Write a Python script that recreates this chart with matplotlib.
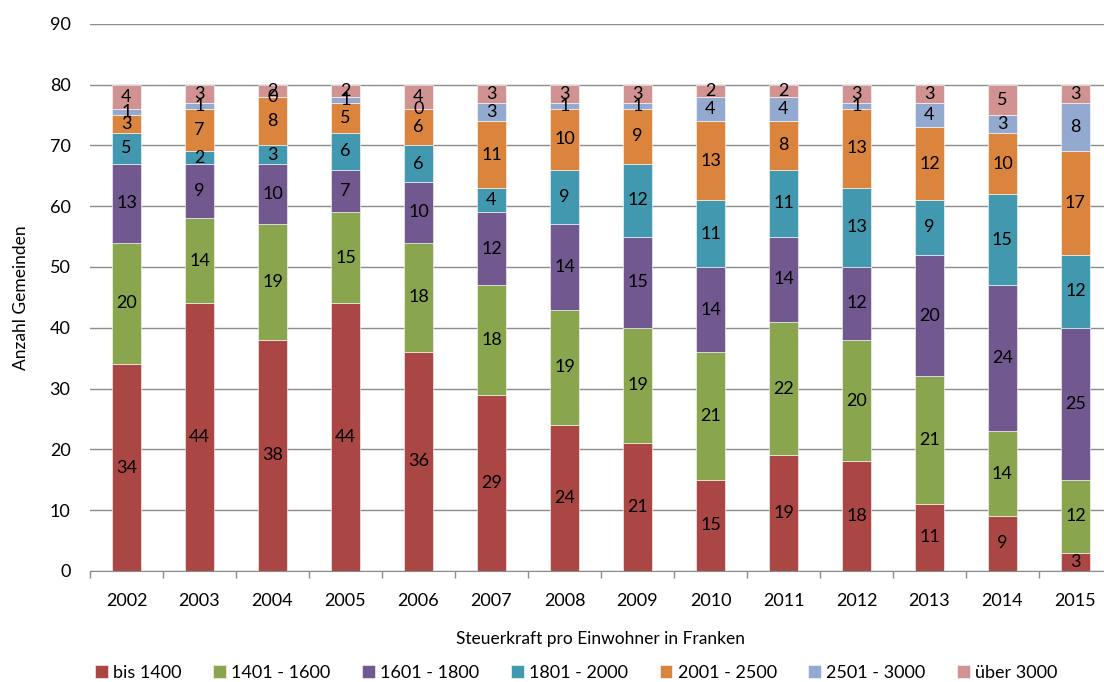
import numpy as np
import matplotlib.pyplot as plt
from matplotlib.ticker import FixedLocator

plt.rcParams['font.family'] = ['Lato', 'DejaVu Sans']

years = ['2002', '2003', '2004', '2005', '2006', '2007', '2008',
         '2009', '2010', '2011', '2012', '2013', '2014', '2015']
classes = ['bis 1400', '1401 - 1600', '1601 - 1800', '1801 - 2000',
           '2001 - 2500', '2501 - 3000', 'über 3000']

bis_1400 = [34, 44, 38, 44, 36, 29, 24, 21, 15, 19, 18, 11, 9, 3]
k1401_1600 = [20, 14, 19, 15, 18, 18, 19, 19, 21, 22, 20, 21, 14, 12]
k1601_1800 = [13, 9, 10, 7, 10, 12, 14, 15, 14, 14, 12, 20, 24, 25]
k1801_2000 = [5, 2, 3, 6, 6, 4, 9, 12, 11, 11, 13, 9, 15, 12]
k2001_2500 = [3, 7, 8, 5, 6, 11, 10, 9, 13, 8, 13, 12, 10, 17]
k2501_3000 = [1, 1, 0, 1, 0, 3, 1, 1, 4, 4, 1, 4, 3, 8]
ueber_3000 = [4, 3, 2, 2, 4, 3, 3, 3, 2, 2, 3, 3, 5, 3]

series = [bis_1400, k1401_1600, k1601_1800, k1801_2000,
          k2001_2500, k2501_3000, ueber_3000]
colors = ['#AA4643', '#89A54E', '#71588F', '#4198AF',
          '#DB843D', '#93A9CF', '#D19392']

fig = plt.figure(figsize=(11.04, 6.82), dpi=100)
# plot area runs a little past the right edge of the figure
ax = fig.add_axes([0.0815, 0.163, 0.9257, 0.802])

x = np.arange(len(years))
bottom = np.zeros(len(years))
for vals, col, name in zip(series, colors, classes):
    vals = np.array(vals, dtype=float)
    bars = ax.bar(x, vals, 0.40, bottom=bottom, color=col, label=name,
                  edgecolor='white', linewidth=0.4, zorder=3)
    ax.bar_label(bars, labels=[str(int(v)) for v in vals], label_type='center',
                 fontsize=13, color='black', zorder=4)
    bottom += vals

ax.set_xlim(-0.5, len(years) - 0.5)
ax.set_ylim(0, 90)
ax.set_yticks(np.arange(0, 91, 10))
ax.yaxis.grid(True, color='#8c8c8c', linewidth=1.0, zorder=0)
ax.set_xticks(x)
ax.set_xticklabels(years)
ax.xaxis.set_minor_locator(FixedLocator(np.arange(-0.5, len(years), 1.0)))
ax.tick_params(axis='x', which='major', length=0, pad=16, labelsize=13)
ax.tick_params(axis='x', which='minor', length=5, color='#8c8c8c', width=1)
ax.tick_params(axis='y', length=0, labelsize=13, pad=14)

for side in ['top', 'right', 'left']:
    ax.spines[side].set_visible(False)
ax.spines['bottom'].set_color('#8c8c8c')
ax.spines['bottom'].set_zorder(5)

ax.set_xlabel('Steuerkraft pro Einwohner in Franken', fontsize=12.5, labelpad=16)
ax.set_ylabel('Anzahl Gemeinden', fontsize=12.5, labelpad=15)

ax.legend(loc='center', bbox_to_anchor=(0.476, -0.186), ncol=7,
          frameon=False, fontsize=13, handlelength=0.7, handleheight=0.7,
          handletextpad=0.3, columnspacing=1.75)

fig.savefig('out.png', dpi=100)
